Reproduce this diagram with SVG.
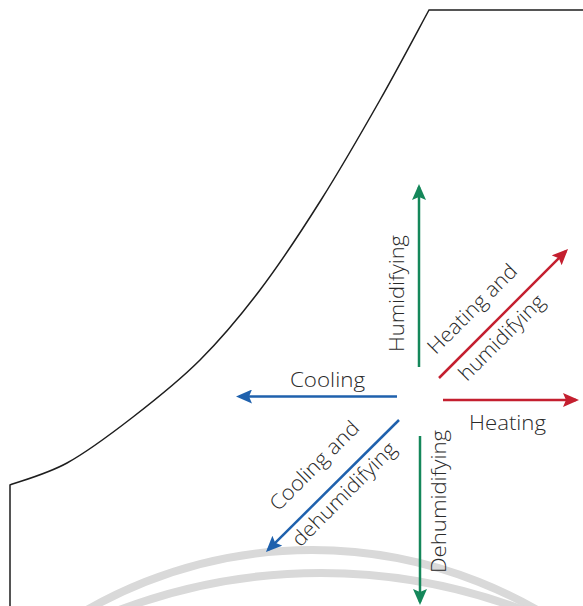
<svg xmlns="http://www.w3.org/2000/svg" width="583" height="606" viewBox="0 0 583 606">
<style>
.lbl{font-family:"Open Sans","Liberation Sans",sans-serif;font-weight:300;font-size:20.5px;fill:#2a2a2a;text-anchor:middle}
.arc{fill:none;stroke:#d9d9d9;stroke-width:8}
.outline{fill:none;stroke:#1e1e1e;stroke-width:1.5}
.g{stroke:#14875a;stroke-width:2.5;fill:none}
.r{stroke:#c41f2f;stroke-width:2.5;fill:none}
.b{stroke:#1f61ad;stroke-width:2.5;fill:none}
</style>
<defs>
<marker id="ag" viewBox="0 0 16 14" refX="13" refY="7" markerWidth="16" markerHeight="14" markerUnits="userSpaceOnUse" orient="auto"><path d="M0,0 L16,7 L0,14 L3,7 z" fill="#14875a"/></marker>
<marker id="ar" viewBox="0 0 16 14" refX="13" refY="7" markerWidth="16" markerHeight="14" markerUnits="userSpaceOnUse" orient="auto"><path d="M0,0 L16,7 L0,14 L3,7 z" fill="#c41f2f"/></marker>
<marker id="ab" viewBox="0 0 16 14" refX="13" refY="7" markerWidth="16" markerHeight="14" markerUnits="userSpaceOnUse" orient="auto"><path d="M0,0 L16,7 L0,14 L3,7 z" fill="#1f61ad"/></marker>
</defs>
<rect width="583" height="606" fill="#fff"/>
<g id="watermark">
<circle class="arc" cx="312" cy="1002" r="452"/>
<circle class="arc" cx="321" cy="1142" r="569"/>
</g>
<g id="outline">
<path class="outline" d="M583,10 L429,10 C420.8,25 398,68.3 380,100 C362,131.7 341,168.3 321,200 C301,231.7 280.2,263.3 260,290 C239.8,316.7 221.2,338.8 200,360 C178.8,381.2 155.2,399.8 133,417 C110.8,434.2 87.5,451.7 67,463 C46.5,474.3 19.5,481.3 10,485 L10,606"/>
</g>
<g id="connectors">
<line class="g" x1="419" y1="367" x2="419" y2="187" marker-end="url(#ag)"/>
<line class="g" x1="420" y1="436" x2="420" y2="602" marker-end="url(#ag)"/>
<line class="r" x1="443" y1="400" x2="576" y2="400" marker-end="url(#ar)"/>
<line class="r" x1="439" y1="378" x2="565.9" y2="251.1" marker-end="url(#ar)"/>
<line class="b" x1="397" y1="396.5" x2="239" y2="396.5" marker-end="url(#ab)"/>
<line class="b" x1="399" y1="420" x2="268.1" y2="549.9" marker-end="url(#ab)"/>
</g>
<g id="humidifying">
<text class="lbl" transform="translate(404,293.5) rotate(-90)" textLength="117" lengthAdjust="spacingAndGlyphs">Humidifying</text>
</g>
<g id="dehumidifying">
<text class="lbl" transform="translate(446,501.5) rotate(-90)" textLength="143" lengthAdjust="spacingAndGlyphs">Dehumidifying</text>
</g>
<g id="heating">
<text class="lbl" x="507.5" y="430" textLength="77" lengthAdjust="spacingAndGlyphs">Heating</text>
</g>
<g id="cooling">
<text class="lbl" x="327.5" y="387" textLength="75" lengthAdjust="spacingAndGlyphs">Cooling</text>
</g>
<g id="heating-humidifying">
<text class="lbl" transform="translate(477.2,313.8) rotate(-45)" textLength="117" lengthAdjust="spacingAndGlyphs">Heating and</text>
<text class="lbl" transform="translate(506.5,342.5) rotate(-45)" textLength="112" lengthAdjust="spacingAndGlyphs">humidifying</text>
</g>
<g id="cooling-dehumidifying">
<text class="lbl" transform="translate(319.3,470.7) rotate(-45)" textLength="117" lengthAdjust="spacingAndGlyphs">Cooling and</text>
<text class="lbl" transform="translate(349,499) rotate(-45)" textLength="138" lengthAdjust="spacingAndGlyphs">dehumidifying</text>
</g>
</svg>
